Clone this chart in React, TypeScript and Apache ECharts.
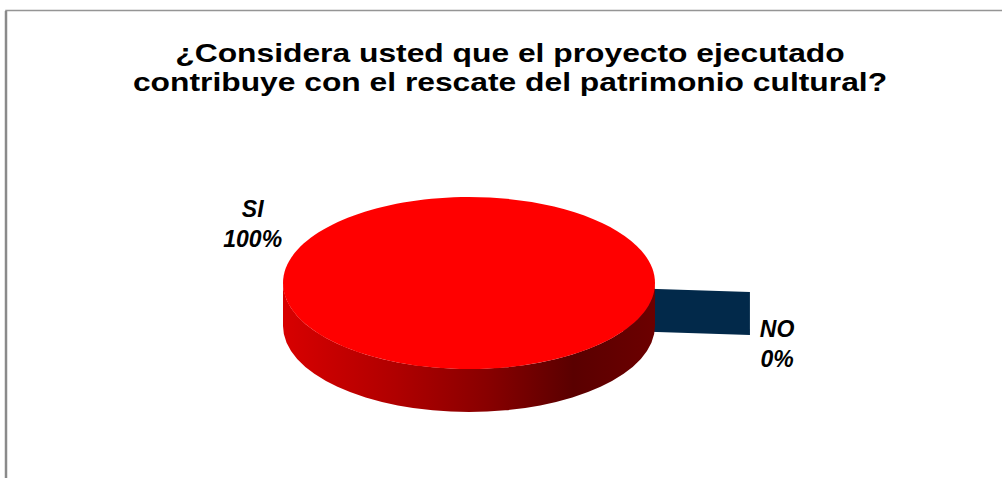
import React, { useEffect, useRef } from "react";
import * as echarts from "echarts";

// ---- data ----
const categories: string[] = ["SI", "NO"];
const values: number[] = [100, 0];
const titleLines: string[] = [
  "¿Considera usted que el proyecto ejecutado",
  "contribuye con el rescate del patrimonio cultural?",
];

// ---- styles / layout (not data) ----
const sliceTopColors = ["#ff0000", "#02294a"];
const sliceSideStops = [
  [
    { offset: 0, color: "#d80000" },
    { offset: 0.3, color: "#b00000" },
    { offset: 0.55, color: "#880000" },
    { offset: 0.78, color: "#5a0000" },
    { offset: 1, color: "#6c0000" },
  ],
  [
    { offset: 0, color: "#02294a" },
    { offset: 1, color: "#02294a" },
  ],
];
const explodeRatio = [0, 0.514];
const labelLayout = [
  { angle: 210, ratio: 1.343 },
  { angle: 23.5, ratio: 1.806 },
];

const PIE = { cx: 469, cy: 283, rx: 186, ry: 86, depth: 43, start: 4 };
const FONT = "'Liberation Sans', Arial, sans-serif";

export default function App() {
  const ref = useRef<HTMLDivElement>(null);

  useEffect(() => {
    if (!ref.current) return;
    const chart = echarts.init(ref.current, null, { renderer: "svg" });
    const total = values.reduce((a, b) => a + b, 0);
    const rad = (d: number) => (d * Math.PI) / 180;

    const renderItem = (params: any, api: any) => {
      const i = params.dataIndex;
      const v = api.value(0);
      let cum = 0;
      for (let k = 0; k < i; k++) cum += values[k];
      const a0 = PIE.start + (cum / total) * 360;
      const a1 = a0 + (v / total) * 360;
      const mid = rad((a0 + a1) / 2);
      const e = explodeRatio[i];
      const cx = PIE.cx + e * PIE.rx * Math.cos(mid);
      const cy = PIE.cy + e * PIE.ry * Math.sin(mid);
      const D = PIE.depth;
      const pt = (deg: number, y0: number) => [
        cx + PIE.rx * Math.cos(rad(deg)),
        y0 + PIE.ry * Math.sin(rad(deg)),
      ];
      const full = a1 - a0 >= 359.999;
      const z = v > 0 ? 10 : 0;
      const children: any[] = [];
      const sideFill = new echarts.graphic.LinearGradient(0, 0, 1, 0, sliceSideStops[i]);

      // radial faces
      if (!full) {
        const faces = a1 - a0 < 1e-6 ? [a0] : [a0, a1];
        faces.forEach((a) => {
          const p1 = pt(a, cy);
          const p2 = pt(a, cy + D);
          children.push({
            type: "polygon",
            z2: z,
            shape: { points: [[cx, cy], p1, p2, [cx, cy + D]] },
            style: { fill: i === 0 ? "#a00000" : sliceTopColors[i] },
          });
        });
      }

      // outer side (front half only)
      if (v > 0) {
        const s = full ? 0 : Math.max(0, a0 % 360);
        const en = full ? 180 : Math.min(180, a1 % 360);
        if (en > s) {
          const t1 = pt(s, cy), t2 = pt(en, cy), b2 = pt(en, cy + D), b1 = pt(s, cy + D);
          const d =
            `M${t1[0]} ${t1[1]} A${PIE.rx} ${PIE.ry} 0 0 1 ${t2[0]} ${t2[1]} ` +
            `L${b2[0]} ${b2[1]} A${PIE.rx} ${PIE.ry} 0 0 0 ${b1[0]} ${b1[1]} Z`;
          children.push({
            type: "path",
            z2: z + 1,
            shape: { pathData: d },
            style: { fill: sideFill },
          });
        }
        // top face
        if (full) {
          children.push({
            type: "ellipse",
            z2: z + 2,
            shape: { cx, cy, rx: PIE.rx, ry: PIE.ry },
            style: { fill: sliceTopColors[i] },
          });
        } else {
          const p0 = pt(a0, cy), p1 = pt(a1, cy);
          const large = a1 - a0 > 180 ? 1 : 0;
          children.push({
            type: "path",
            z2: z + 2,
            shape: {
              pathData: `M${cx} ${cy} L${p0[0]} ${p0[1]} A${PIE.rx} ${PIE.ry} 0 ${large} 1 ${p1[0]} ${p1[1]} Z`,
            },
            style: { fill: sliceTopColors[i] },
          });
        }
      }

      // label
      const L = labelLayout[i];
      const pct = Math.round((v / total) * 100);
      children.push({
        type: "text",
        z2: 20,
        x: PIE.cx + L.ratio * PIE.rx * Math.cos(rad(L.angle)),
        y: PIE.cy + L.ratio * PIE.ry * Math.sin(rad(L.angle)) - 1,
        style: {
          text: `${categories[i]}\n${pct}%`,
          fontFamily: FONT,
          fontSize: 23,
          fontWeight: "bold",
          fontStyle: "italic",
          fill: "#000",
          align: "center",
          verticalAlign: "middle",
          lineHeight: 30,
        },
      });

      return { type: "group", children };
    };

    chart.setOption({
      animation: false,
      backgroundColor: "#ffffff",
      graphic: [
        {
          type: "polyline",
          shape: { points: [[6, 478], [6, 10.5], [1002, 10.5]] },
          style: { stroke: "#959595", lineWidth: 1.5, fill: "none" },
        },
        {
          type: "line",
          shape: { x1: 6, y1: 11, x2: 6, y2: 478 },
          style: { stroke: "#8a8a8a", lineWidth: 2.5 },
        },
        {
          type: "text",
          x: 510,
          y: 68,
          scaleX: 1.223,
          style: {
            text: titleLines.join("\n"),
            fontFamily: FONT,
            fontSize: 26,
            fontWeight: "bold",
            fill: "#000",
            align: "center",
            verticalAlign: "middle",
            lineHeight: 29,
          },
        },
      ],
      series: [
        {
          type: "custom",
          coordinateSystem: "none",
          renderItem,
          data: values.map((v, i) => ({ name: categories[i], value: [v] })),
        },
      ],
    });

    return () => chart.dispose();
  }, []);

  return (
    <div
      ref={ref}
      style={{ position: "fixed", left: 0, top: 0, width: 1002, height: 478 }}
    />
  );
}
